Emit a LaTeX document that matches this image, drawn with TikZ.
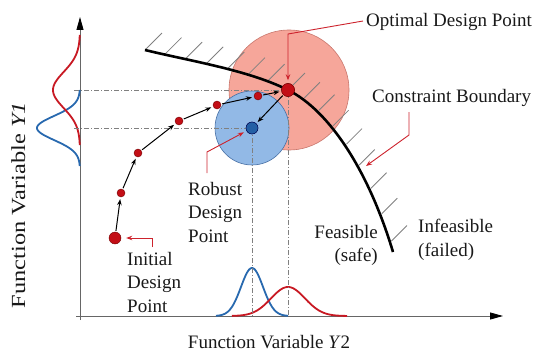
\documentclass[tikz,border=0pt]{standalone}
\usepackage{fontspec}
\setmainfont{Liberation Serif}
\usetikzlibrary{arrows.meta,calc}
\definecolor{dred}{RGB}{195,14,22}
\definecolor{lred}{RGB}{205,35,45}
\definecolor{pinkf}{RGB}{246,166,154}
\definecolor{pinkd}{RGB}{200,118,108}
\definecolor{bluef}{RGB}{146,185,230}
\definecolor{blued}{RGB}{72,112,165}
\definecolor{dblue}{RGB}{35,95,165}
\definecolor{curvb}{RGB}{40,105,175}
\definecolor{curvr}{RGB}{200,25,35}
\begin{document}
\begin{tikzpicture}[x=1pt,y=-1pt,
  lbl/.style={font=\fontsize{19}{23.5}\selectfont, inner sep=0pt, text=black!90},
  axisln/.style={draw=black!60, line width=0.9pt, -{Triangle[length=13pt,width=7pt,color=black]}},
  guide/.style={draw=black!50, line width=0.6pt, dash pattern=on 5pt off 2pt on 1pt off 2pt},
  hatchln/.style={draw=black!50, line width=0.8pt},
  leader/.style={draw=lred, line width=0.9pt, -{Stealth[length=6pt,width=4.5pt]}},
  stepar/.style={draw=black, line width=1pt, -{Stealth[length=6pt,width=4.5pt]}, shorten >=2pt, shorten <=1pt},
  rdot/.style={circle, fill=dred, draw=red!45!black, line width=0.4pt, inner sep=0pt, minimum size=#1},
  bdot/.style={circle, fill=dblue, draw=blue!30!black, line width=0.4pt, inner sep=0pt, minimum size=#1},
  distb/.style={draw=curvb, line width=1.8pt},
  distr/.style={draw=curvr, line width=1.8pt},
]
\useasboundingbox (0,0) rectangle (538,353);

% axes
\coordinate (ybot) at (80,320);
\coordinate (ytop) at (80,17);
\coordinate (xleft) at (76,316);
\coordinate (xright) at (503,316);
\draw[axisln] (ybot) -- (ytop);
\draw[axisln] (xleft) -- (xright);

% distributions on Y1 axis
\draw[distb] plot[domain=-38:38,samples=77,smooth] ({80-43*exp(-(\x*\x)/(2*12*12))},{128+\x});
\draw[distr] plot[domain=-55:55,samples=111,smooth] ({80-27*exp(-(\x*\x)/(2*18*18))},{90+\x});
% distributions on Y2 axis
\draw[distb] plot[domain=-36:36,samples=73,smooth] ({252+\x},{316-48*exp(-(\x*\x)/(2*11*11))});
\draw[distr] plot[domain=-56:59,samples=116,smooth] ({288+\x},{316-29*exp(-(\x*\x)/(2*17*17))});

% design region of the optimum
\node[circle, fill=pinkf, draw=pinkd, line width=0.6pt, minimum size=120pt, inner sep=0pt] (pinkc) at (289,90) {};

% hatching on the infeasible side
\foreach \t in {0,0.14,0.28,0.42,0.56,0.70,0.84} {
  \path (145,50) .. controls (190,61) and (248,70) .. (288,90) coordinate[pos=\t] (hh);
  \draw[hatchln] (hh) -- ++(45:24pt);
}
\foreach \t in {0,0.12,0.24,0.36,0.48,0.60,0.72,0.84,0.96} {
  \path (288,90) .. controls (330,111) and (369,172) .. (393,252) coordinate[pos=\t] (hh);
  \draw[hatchln] ($(hh)+(45:2pt)$) -- ++(45:22pt);
}

% design region of the robust point
\node[circle, fill=bluef, draw=blued, line width=0.6pt, minimum size=74pt, inner sep=0pt] (bluec) at (252,128) {};

% dots
\node[rdot=12pt] (init) at (115,238) {};
\node[rdot=8pt] (p1) at (121,193) {};
\node[rdot=8pt] (p2) at (138,153) {};
\node[rdot=8pt] (p3) at (179,121) {};
\node[rdot=8pt] (p4) at (217,105) {};
\node[rdot=8pt] (p5) at (258,96) {};
\node[rdot=13pt] (opt) at (288,90) {};
\node[bdot=12pt] (rob) at (252,128) {};

% guide lines
\coordinate (gy1) at (74,90);
\coordinate (gy2) at (74,128);
\coordinate (gx1) at (252,316);
\coordinate (gx2) at (288,316);
\draw[guide] (gy1) -- (opt.center);
\draw[guide] (gy2) -- (rob.center);
\draw[guide] (rob.center) -- (gx1);
\draw[guide] (opt.center) -- (gx2);

% constraint boundary
\draw[line width=2.6pt, black] (145,50) .. controls (190,61) and (248,70) .. (288,90) .. controls (330,111) and (369,172) .. (393,252);

% dots above guides / curve
\node[rdot=13pt] at (opt) {};
\node[bdot=12pt] at (rob) {};

% optimisation path
\draw[stepar] (init) -- (p1);
\draw[stepar] (p1) -- (p2);
\draw[stepar] (p2) -- (p3);
\draw[stepar] (p3) -- (p4);
\draw[stepar] (p4) -- (p5);
\draw[stepar] (p5) -- (opt);
\draw[stepar] (opt) -- (rob);

% labels
\node[lbl, anchor=base west] (optlbl) at (366,27) {Optimal Design Point};
\node[lbl, anchor=base west] (conlbl) at (372,102) {Constraint Boundary};
\node[lbl, anchor=north west, align=left] (roblbl) at (188,182) {Robust\\Design\\Point};
\node[lbl, anchor=north west, align=left] (inilbl) at (127,252) {Initial\\Design\\Point};
\node[lbl, anchor=north east, align=right] (feaslbl) at (378,225) {Feasible\\(safe)};
\node[lbl, anchor=north west, align=left] (infeaslbl) at (418,219) {Infeasible\\(failed)};
\node[lbl, anchor=base] (xlbl) at (269,348) {Function Variable \textit{Y}2};
\node[lbl, font=\fontsize{20}{24}\selectfont, rotate=90, xscale=1.22, anchor=base] (ylbl) at (25,205) {Function Variable \textit{Y1}};

% leaders
\coordinate (ol1) at (288,34);
\draw[leader, shorten >=3pt] (363,21) -- (ol1) -- (opt);
\coordinate (cl0) at (409,112);
\coordinate (cl1) at (409,135);
\coordinate (cl2) at (366,166);
\draw[leader] (cl0) -- (cl1) -- (cl2);
\coordinate (rl0) at (207,173);
\coordinate (rl1) at (207,152);
\draw[leader, shorten >=3pt] (rl0) -- (rl1) -- (rob);
\coordinate (il0) at (152,247);
\coordinate (il1) at (152,238);
\draw[leader, shorten >=5pt] (il0) -- (il1) -- (init);
\end{tikzpicture}
\end{document}
